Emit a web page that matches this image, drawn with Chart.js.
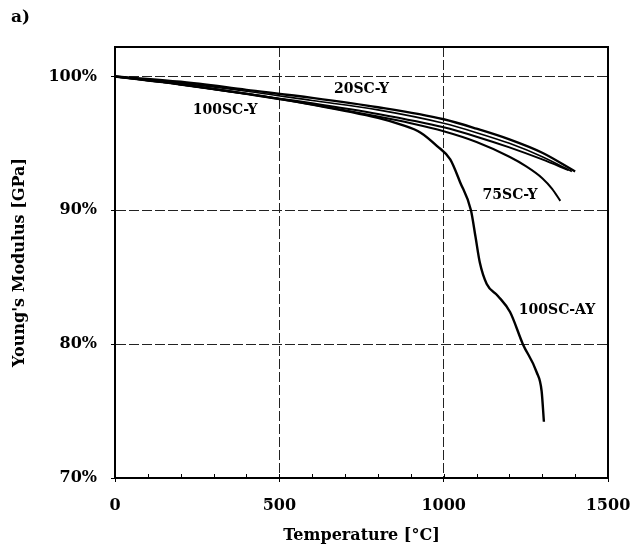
<!DOCTYPE html>
<html>
<head>
<meta charset="utf-8">
<script src="https://cdn.jsdelivr.net/npm/chart.js@4.4.1/dist/chart.umd.min.js"></script>
<style>
  html, body { margin: 0; padding: 0; background: #fff; }
  #wrap { position: relative; width: 630px; height: 552px; }
</style>
</head>
<body>
<div id="wrap"><canvas id="modulusChart" width="630" height="552"></canvas></div>
<script>
// Young's modulus vs. temperature, one curve per fibre grade
const temp20 = [0, 200, 400, 600, 800, 1000, 1100, 1200, 1300, 1400];
const mod20 = [100, 99.6, 99.0, 98.4, 97.7, 96.8, 96.1, 95.3, 94.3, 92.9];

const temp50 = [0, 200, 400, 600, 800, 1000, 1100, 1200, 1300, 1390];
const mod50 = [100, 99.5, 98.9, 98.2, 97.5, 96.5, 95.8, 95.0, 94.0, 92.9];

const temp100 = [0, 200, 400, 600, 800, 1000, 1100, 1200, 1300, 1380];
const mod100 = [100, 99.4, 98.7, 98.0, 97.2, 96.2, 95.5, 94.7, 93.8, 93.0];

const temp75 = [0, 200, 400, 600, 800, 900, 1000, 1100, 1200, 1250, 1300, 1330, 1355];
const mod75 = [100, 99.4, 98.7, 97.9, 97.0, 96.5, 95.9, 95.1, 94.0, 93.3, 92.4, 91.6, 90.7];

const tempAY = [0, 200, 400, 600, 800, 870, 930, 980, 1020, 1050, 1083, 1097, 1110, 1131, 1165, 1202, 1241, 1283, 1298, 1305];
const modAY = [100, 99.4, 98.7, 97.9, 96.9, 96.4, 95.8, 94.8, 93.8, 92.1, 90.0, 88.0, 86.1, 84.5, 83.6, 82.4, 80.0, 77.9, 76.5, 74.2];

const xTicks = [0, 500, 1000, 1500];
const yTicks = [70, 80, 90, 100];

// where each curve name sits, in axis units
const curveLabels = [
    { text: '20SC-Y', t: 750, m: 99.05 },
    { text: '100SC-Y', t: 335, m: 97.45 },
    { text: '75SC-Y', t: 1202, m: 91.1 },
    { text: '100SC-AY', t: 1345, m: 82.5 }
];

const FONT = '"DejaVu Serif", "Liberation Serif", serif';

function pts(xs, ys) {
    return xs.map((x, i) => ({ x, y: ys[i] }));
}

function curve(label, xs, ys, width) {
    return {
        label,
        data: pts(xs, ys),
        showLine: true,
        borderColor: '#000',
        borderWidth: width,
        pointRadius: 0,
        cubicInterpolationMode: 'monotone',
        fill: false
    };
}

const frameAndLabels = {
    id: 'frameAndLabels',
    afterDatasetsDraw(chart) {
        const { ctx, chartArea: a, scales } = chart;
        ctx.save();
        // box around the plot
        ctx.strokeStyle = '#000';
        ctx.lineWidth = 2;
        ctx.strokeRect(a.left, a.top, a.right - a.left, a.bottom - a.top);
        // small inward ticks every 100 °C
        ctx.lineWidth = 1;
        for (let t = 100; t < 1500; t += 100) {
            const px = Math.round(scales.x.getPixelForValue(t)) + 0.5;
            ctx.beginPath();
            ctx.moveTo(px, a.bottom);
            ctx.lineTo(px, a.bottom - 4);
            ctx.stroke();
        }
        // curve names
        ctx.fillStyle = '#000';
        ctx.font = 'bold 14px ' + FONT;
        ctx.textAlign = 'center';
        ctx.textBaseline = 'middle';
        curveLabels.forEach(l => {
            ctx.fillText(l.text, scales.x.getPixelForValue(l.t), scales.y.getPixelForValue(l.m));
        });
        // panel letter
        ctx.font = 'bold 17px ' + FONT;
        ctx.textAlign = 'left';
        ctx.fillText('a)', 11, 18);
        ctx.restore();
    }
};

const gridStyle = {
    color: '#222',
    lineWidth: 1,
    tickLength: 4,
    tickColor: '#000'
};

new Chart(document.getElementById('modulusChart'), {
    type: 'scatter',
    data: {
        datasets: [
            curve('20SC-Y', temp20, mod20, 2.4),
            curve('50SC-Y', temp50, mod50, 1.6),
            curve('100SC-Y', temp100, mod100, 2),
            curve('75SC-Y', temp75, mod75, 2),
            curve('100SC-AY', tempAY, modAY, 2.4)
        ]
    },
    options: {
        responsive: false,
        animation: false,
        layout: { padding: { top: 47, right: 22, bottom: 0, left: 0 } },
        plugins: {
            legend: { display: false },
            tooltip: { enabled: false }
        },
        scales: {
            x: {
                type: 'linear',
                min: 0,
                max: 1500,
                afterBuildTicks: s => { s.ticks = xTicks.map(v => ({ value: v })); },
                afterFit: s => { s.height = 74; s.paddingRight = 0; },
                grid: gridStyle,
                border: { color: '#000', width: 2, dash: [10, 3] },
                ticks: {
                    color: '#000',
                    padding: 14,
                    maxRotation: 0,
                    callback: v => String(v),
                    font: { family: FONT, size: 16, weight: 'bold' }
                },
                title: {
                    display: true,
                    text: 'Temperature [°C]',
                    color: '#000',
                    padding: { top: 0, bottom: 7 },
                    font: { family: FONT, size: 16, weight: 'bold' }
                }
            },
            y: {
                min: 70,
                max: 102.2,
                afterBuildTicks: s => { s.ticks = yTicks.map(v => ({ value: v })); },
                afterFit: s => { s.width = 115; },
                grid: gridStyle,
                border: { color: '#000', width: 2, dash: [10, 3] },
                ticks: {
                    color: '#000',
                    padding: 14,
                    callback: v => v + '%',
                    font: { family: FONT, size: 16, weight: 'bold' }
                },
                title: {
                    display: true,
                    text: "Young's Modulus [GPa]",
                    color: '#000',
                    padding: { top: 10, bottom: 0 },
                    font: { family: FONT, size: 16, weight: 'bold' }
                }
            }
        }
    },
    plugins: [frameAndLabels]
});
</script>
</body>
</html>
